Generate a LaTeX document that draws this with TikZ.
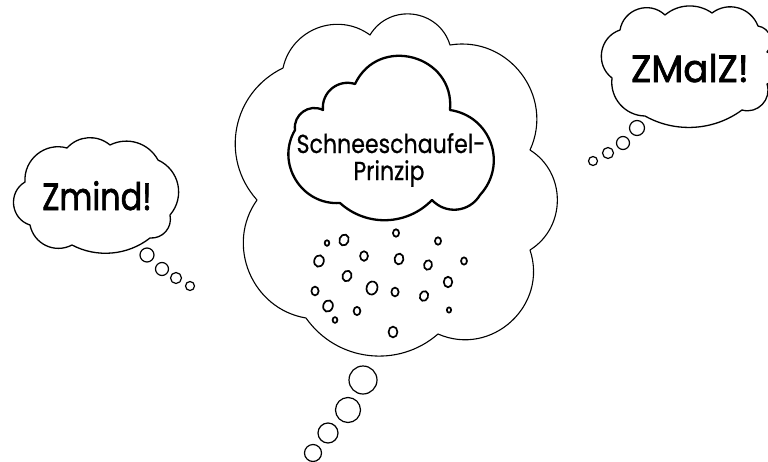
\documentclass[tikz,border=0pt]{standalone}
\usepackage{graphicx}
\usepackage{fontspec}
\setmainfont{Poppins}[FakeBold=0.7]
\newfontfamily\popbold{Poppins}[FakeBold=1.8]
\usetikzlibrary{calc}
\newcommand\lb[4]{.. controls ($(#3)!#2!#1:(#4)$) and ($(#4)!#2!-#1:(#3)$) .. (#4)}
\begin{document}
\begin{tikzpicture}[x=1pt,y=-1pt,
  bigcloud/.style={draw=black, line width=1.1pt, line join=round},
  smallcloud/.style={draw=black, line width=1.3pt, line join=round},
  innercloud/.style={draw=black, line width=2.3pt, line join=round},
  bubble/.style={draw=black, line width=1.2pt},
  flake/.style={draw=black, line width=1.7pt},
  label/.style={inner sep=0pt, anchor=base, text=black}]
\useasboundingbox (0,0) rectangle (768,461);
% big outer cloud
\draw[bigcloud] (283,68)
  \lb{57}{0.43}{283,68}{370,35}
  \lb{66}{0.47}{370,35}{450,45}
  \lb{62}{0.45}{450,45}{530,150}
  \lb{58}{0.43}{530,150}{530,250}
  \lb{66}{0.47}{530,250}{438,334}
  \lb{48}{0.40}{438,334}{306,318}
  \lb{58}{0.43}{306,318}{257,200}
  \lb{53}{0.42}{257,200}{283,68} -- cycle;
% inner cloud
\draw[innercloud] (323,110)
  \lb{57}{0.43}{323,110}{355,84}
  \lb{80}{0.56}{355,84}{450,110}
  \lb{62}{0.46}{450,110}{480,195}
  \lb{53}{0.42}{480,195}{432,200}
  \lb{44}{0.39}{432,200}{340,203}
  \lb{62}{0.45}{340,203}{295,130}
  \lb{62}{0.45}{295,130}{323,110} -- cycle;
% right cloud
\draw[smallcloud] (620,30)
  \lb{62}{0.45}{620,30}{665,15}
  \lb{38}{0.37}{665,15}{712,13}
  \lb{53}{0.42}{712,13}{758,26}
  \lb{62}{0.45}{758,26}{767,52}
  \lb{70}{0.50}{767,52}{767,84}
  \lb{62}{0.45}{767,84}{742,110}
  \lb{33}{0.36}{742,110}{645,116}
  \lb{48}{0.40}{645,116}{612,78}
  \lb{62}{0.45}{612,78}{620,30} -- cycle;
% left cloud
\draw[smallcloud] (25,182)
  \lb{55}{0.42}{25,182}{67,148}
  \lb{44}{0.39}{67,148}{110,145}
  \lb{44}{0.39}{110,145}{158,160}
  \lb{53}{0.42}{158,160}{170,215}
  \lb{53}{0.42}{170,215}{150,238}
  \lb{33}{0.36}{150,238}{72,245}
  \lb{53}{0.42}{72,245}{30,225}
  \lb{66}{0.47}{30,225}{25,182} -- cycle;
% texts
\node[label, font=\popbold\fontsize{38}{40}\selectfont] (zmind) at (97,210) {\scalebox{0.84}[1]{Zmind!}};
\node[label, font=\popbold\fontsize{38}{40}\selectfont] (zmalz) at (690,82) {\scalebox{0.98}[1]{ZMalZ!}};
\node[label, font=\fontsize{26}{28}\selectfont] (s1) at (391,153) {\scalebox{0.85}[1]{Schneeschaufel-}};
\node[label, font=\fontsize{26}{28}\selectfont] (s2) at (389,180) {\scalebox{0.85}[1]{Prinzip}};
% snow flakes
\foreach \x/\y/\r/\a in {327/243/2.8/0, 344/240/5.6/-20, 396/233/3.7/0, 438/241/3.7/0,
  319/261/5.8/-15, 364/256/4.8/0, 399/259/5.4/-10, 428/265/4.8/-15, 464/261/3.6/0,
  347/276/5.4/-20, 448/282/5.2/0, 315/291/4.4/0, 372/288/6.6/-15, 395/292/4.4/0,
  424/296/5/-20, 328/306/5.8/-20, 357/311/4.1/0, 335/320/2.9/0, 449/310/2.6/0, 393/332/5.4/0}
  \draw[flake, rotate around={\a:(\x,\y)}] (\x,\y) ellipse[x radius=0.82*\r pt, y radius=\r pt];
% bubbles
\foreach \x/\y/\r in {363/380/14, 348/410/12.5, 328/433/10, 313/453/8.5,
  147/255/7, 162/269/6.5, 176/278/5.5, 190/286/4.5,
  637/128/7.5, 623/143/6.5, 608/153/5.5, 593/161/4.5}
  \draw[bubble] (\x,\y) circle[radius=\r pt];
\end{tikzpicture}
\end{document}
